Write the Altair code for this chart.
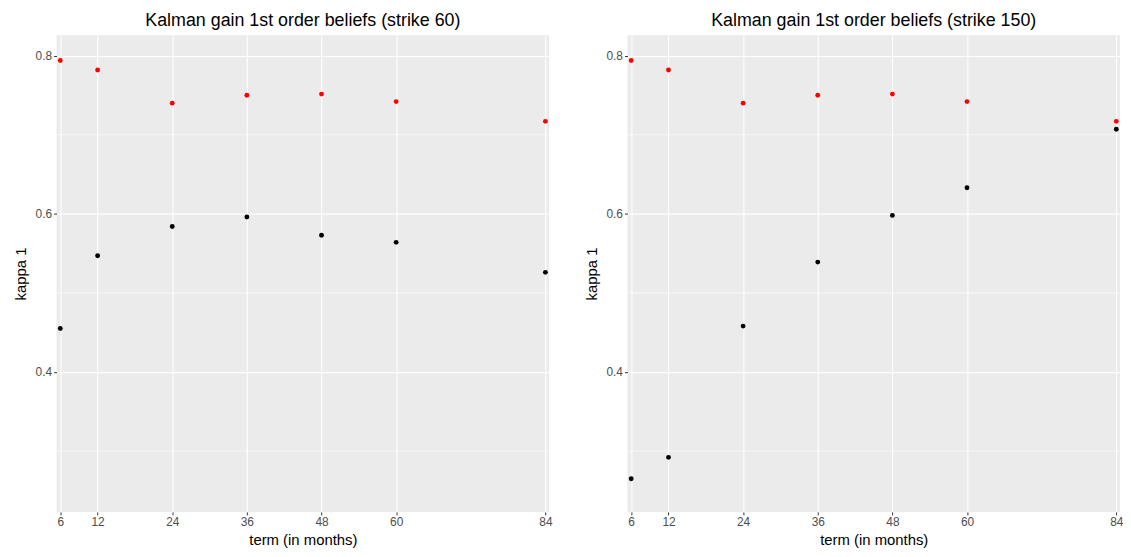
import altair as alt
import pandas as pd

terms = [6, 12, 24, 36, 48, 60, 84]
red_60 = [0.794, 0.782, 0.740, 0.750, 0.7515, 0.742, 0.717]
black_60 = [0.455, 0.547, 0.584, 0.596, 0.573, 0.564, 0.526]
red_150 = [0.794, 0.782, 0.740, 0.750, 0.7515, 0.742, 0.717]
black_150 = [0.265, 0.292, 0.458, 0.539, 0.598, 0.633, 0.707]
y_major = [0.4, 0.6, 0.8]
y_minor = [0.3, 0.5, 0.7]
titles = ["Kalman gain 1st order beliefs (strike 60)",
          "Kalman gain 1st order beliefs (strike 150)"]

FONT = "Liberation Sans"


def panel(red, black, title):
    df = pd.DataFrame({
        "term": terms * 2,
        "kappa": red + black,
        "series": ["red"] * len(terms) + ["black"] * len(terms),
    })
    minor = pd.DataFrame({"v": y_minor})
    xs = alt.Scale(domain=[5.4, 84.6], nice=False, zero=False)
    ys = alt.Scale(domain=[0.223, 0.826], nice=False, zero=False)
    grid_minor = alt.Chart(minor).mark_rule(color="white", strokeWidth=0.6).encode(
        y=alt.Y("v:Q", scale=ys)
    )
    pts = alt.Chart(df).mark_circle(size=24, opacity=1).encode(
        x=alt.X("term:Q", scale=xs, title="term (in months)",
                axis=alt.Axis(values=terms, format="d")),
        y=alt.Y("kappa:Q", scale=ys, title="kappa 1",
                axis=alt.Axis(values=y_major, format=".1f")),
        color=alt.Color("series:N",
                        scale=alt.Scale(domain=["red", "black"], range=["#FF0000", "#000000"]),
                        legend=None),
    )
    return alt.layer(grid_minor, pts).properties(
        width=497, height=481,
        title=alt.TitleParams(title, anchor="middle", fontSize=18, font=FONT,
                              fontWeight="normal", color="black", offset=5),
    )


chart = alt.hconcat(
    panel(red_60, black_60, titles[0]),
    panel(red_150, black_150, titles[1]),
    spacing=32,
).properties(
    padding={"left": 5, "top": 2, "right": 0, "bottom": 0}
).configure_view(
    fill="#EBEBEB", stroke=None
).configure_axis(
    grid=True, gridColor="white", gridWidth=1.1, domain=False,
    tickColor="#333333", tickSize=3, tickWidth=1,
    labelColor="#4D4D4D", labelFontSize=12, labelFont=FONT, labelPadding=2,
    titleColor="black", titleFontSize=15, titleFont=FONT, titleFontWeight="normal",
).configure_axisX(
    titlePadding=5
).configure_axisY(
    titlePadding=7
)

chart.save("out.html", embed_options={"renderer": "svg", "actions": False})
